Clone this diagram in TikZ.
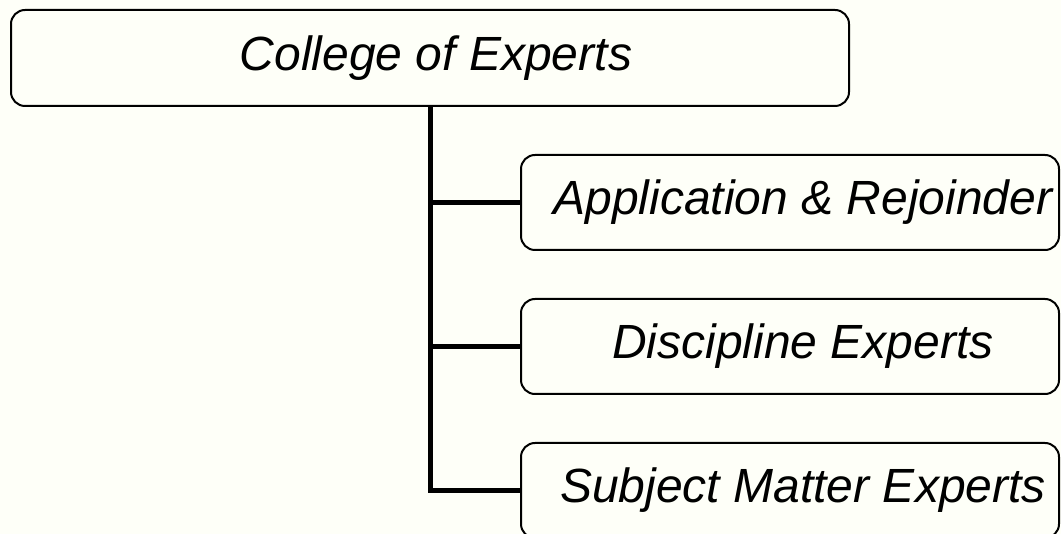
\documentclass[tikz,border=0pt]{standalone}
\usepackage{fontspec}
\setmainfont{Liberation Sans}
\definecolor{bg}{RGB}{254,255,248}
\tikzset{
  box/.style={draw=black, line width=2pt, rounded corners=14pt, fill=bg, inner sep=0pt,
    font=\fontsize{48}{56}\selectfont\itshape},
  conn/.style={draw=black, line width=5pt, line cap=butt, line join=miter}
}
\begin{document}
\begin{tikzpicture}[x=1pt,y=-1pt]
\useasboundingbox (0,0) rectangle (1061,534);
\fill[bg] (0,0) rectangle (1061,534);
\clip (0,0) rectangle (1061,534);
\node[box, minimum width=838pt, minimum height=96pt] (top) at (430,58) {\raisebox{-2pt}{\hspace*{12pt}College of Experts}};
\node[box, minimum width=538pt, minimum height=95pt] (c1) at (790,202.5) {\raisebox{-2pt}{\hspace*{26pt}Application \& Rejoinder}};
\node[box, minimum width=538pt, minimum height=95pt] (c2) at (790,346.5) {\raisebox{-2pt}{\hspace*{26pt}Discipline Experts}};
\node[box, minimum width=538pt, minimum height=95pt] (c3) at (790,490.5) {\raisebox{-2pt}{\hspace*{26pt}Subject Matter Experts}};
\draw[conn] (top.south) |- (c3.west);
\draw[conn] (top.south |- c1.west) -- (c1.west);
\draw[conn] (top.south |- c2.west) -- (c2.west);
\end{tikzpicture}
\end{document}
